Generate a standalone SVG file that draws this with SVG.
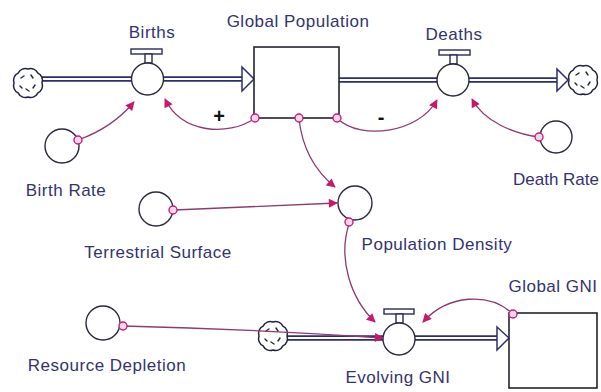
<svg xmlns="http://www.w3.org/2000/svg" xmlns:xlink="http://www.w3.org/1999/xlink" width="601" height="392" viewBox="0 0 601 392">
<style>
.lbl{font-family:"Liberation Sans",Arial,sans-serif;font-size:17px;fill:#33336f;letter-spacing:0.5px;text-anchor:middle}
.sign{font-family:"Liberation Sans",Arial,sans-serif;font-size:20px;font-weight:bold;fill:#111;text-anchor:middle}
.aux{fill:#fff;stroke:#2a2a3a;stroke-width:1.4}
.valve{fill:#fff;stroke:#2a2a3a;stroke-width:1.4}
.vbar{fill:#fff;stroke:#2a2a5a;stroke-width:1.4}
.stock{fill:#fff;stroke:#222233;stroke-width:1.6}
.pipeo{fill:none;stroke:#2e2e6e;stroke-width:5.5}
.pipei{fill:none;stroke:#fff;stroke-width:2.2}
.farrow{fill:#fff;stroke:#2e2e6e;stroke-width:1.5;stroke-linejoin:miter}
.conn{fill:none;stroke:#8e3a6e;stroke-width:1.3}
.dot{fill:#f4d8ea;stroke:#c0207a;stroke-width:1.4}
.cloud{fill:#fff;stroke:#222244;stroke-width:1.5}
.tick{stroke:#222244;stroke-width:1.4;stroke-linecap:round}
</style>
<defs>
<marker id="ah" viewBox="0 0 10 10" refX="9" refY="5" markerWidth="10" markerHeight="9" markerUnits="userSpaceOnUse" orient="auto">
<path d="M0,0 L10,5 L0,10 z" fill="#c8186c"/>
</marker>
<g id="cloudSym">
<path class="cloud" d="M14,0 A8 8 0 0 0 9.9,-9.9 A8 8 0 0 0 0,-14 A8 8 0 0 0 -9.9,-9.9 A8 8 0 0 0 -14,0 A8 8 0 0 0 -9.9,9.9 A8 8 0 0 0 0,14 A8 8 0 0 0 9.9,9.9 A8 8 0 0 0 14,0 Z"/>
<line class="tick" x1="-7" y1="-5" x2="-4" y2="-7"/>
<line class="tick" x1="3" y1="-8" x2="5" y2="-5"/>
<line class="tick" x1="7" y1="2" x2="5" y2="5"/>
<line class="tick" x1="-2" y1="6" x2="1" y2="8"/>
<line class="tick" x1="-8" y1="3" x2="-6" y2="5"/>
</g>
</defs>
<rect width="601" height="392" fill="#fff"/>

<g id="flows">
<path class="pipeo" d="M42,79 L132,79 M163,79 L243,79"/>
<path class="pipei" d="M42,79 L132,79 M163,79 L243,79"/>
<polygon class="farrow" points="242,67 254,79 242,91"/>
<path class="pipeo" d="M339,80 L438,80 M468,80 L557,80"/>
<path class="pipei" d="M339,80 L438,80 M468,80 L557,80"/>
<polygon class="farrow" points="557,69 568,80 557,91"/>
<path class="pipeo" d="M282,338 L384,338 M414,338 L497,338"/>
<path class="pipei" d="M282,338 L384,338 M414,338 L497,338"/>
<polygon class="farrow" points="497,327 509,338 497,350"/>
</g>

<g id="cloud-left"><use xlink:href="#cloudSym" href="#cloudSym" transform="translate(28,83)"/></g>
<g id="cloud-right"><use xlink:href="#cloudSym" href="#cloudSym" transform="translate(583,80)"/></g>
<g id="cloud-gni"><use xlink:href="#cloudSym" href="#cloudSym" transform="translate(273,336)"/></g>

<g id="global-population">
<rect class="stock" x="254" y="47" width="85" height="71"/>
<text class="lbl" x="298" y="27">Global Population</text>
</g>

<g id="births">
<rect class="vbar" x="131" y="49" width="31" height="5"/>
<rect class="vbar" x="145" y="54" width="7" height="9"/>
<circle class="valve" cx="147.5" cy="79" r="16"/>
<text class="lbl" x="152" y="38">Births</text>
</g>

<g id="deaths">
<rect class="vbar" x="439" y="50" width="31" height="5"/>
<rect class="vbar" x="450" y="55" width="7" height="9"/>
<circle class="valve" cx="453" cy="80" r="16"/>
<text class="lbl" x="454" y="40">Deaths</text>
</g>

<g id="evolving-gni">
<rect class="vbar" x="384" y="309" width="30" height="5"/>
<rect class="vbar" x="396" y="314" width="7" height="9"/>
<circle class="valve" cx="399" cy="339" r="16"/>
<text class="lbl" x="398" y="383">Evolving GNI</text>
</g>

<g id="global-gni">
<rect class="stock" x="509" y="313" width="88" height="75"/>
<text class="lbl" x="553" y="292">Global GNI</text>
</g>

<g id="birth-rate">
<circle class="aux" cx="62" cy="146" r="17"/>
<text class="lbl" x="66" y="196">Birth Rate</text>
</g>

<g id="death-rate">
<circle class="aux" cx="556" cy="137" r="16"/>
<text class="lbl" x="599" y="185" style="text-anchor:end;letter-spacing:0">Death Rate</text>
</g>

<g id="terrestrial-surface">
<circle class="aux" cx="156" cy="209" r="17"/>
<text class="lbl" x="158" y="258">Terrestrial Surface</text>
</g>

<g id="population-density">
<circle class="aux" cx="355" cy="203" r="17"/>
<text class="lbl" x="437" y="250">Population Density</text>
</g>

<g id="resource-depletion">
<circle class="aux" cx="103" cy="323" r="17"/>
<text class="lbl" x="107" y="371">Resource Depletion</text>
</g>

<g id="connectors">
<path class="conn" d="M78,140 Q112,128 134,102" marker-end="url(#ah)"/>
<path class="conn" d="M254,119 C228,136 182,134 165,99" marker-end="url(#ah)"/>
<path class="conn" d="M338,119 C360,140 418,134 437,100" marker-end="url(#ah)"/>
<path class="conn" d="M539,137 C515,134 484,122 472,99" marker-end="url(#ah)"/>
<path class="conn" d="M299,119 C302,146 314,170 335,187" marker-end="url(#ah)"/>
<path class="conn" d="M174,210 L337,203" marker-end="url(#ah)"/>
<path class="conn" d="M349,224 C338,258 350,298 375,322" marker-end="url(#ah)"/>
<path class="conn" d="M513,314 C490,292 448,294 423,322" marker-end="url(#ah)"/>
<path class="conn" d="M123,326 Q250,329 383,338" marker-end="url(#ah)"/>
<circle class="dot" cx="78" cy="140" r="4"/>
<circle class="dot" cx="539" cy="137" r="4"/>
<circle class="dot" cx="173" cy="210" r="4"/>
<circle class="dot" cx="123" cy="326" r="4"/>
<circle class="dot" cx="255" cy="118" r="4"/>
<circle class="dot" cx="299" cy="118" r="4"/>
<circle class="dot" cx="337" cy="118" r="4"/>
<circle class="dot" cx="349" cy="222" r="4"/>
<circle class="dot" cx="513" cy="314" r="4"/>
<text class="sign" x="219" y="123">+</text>
<text class="sign" x="381" y="124">-</text>
</g>
</svg>
